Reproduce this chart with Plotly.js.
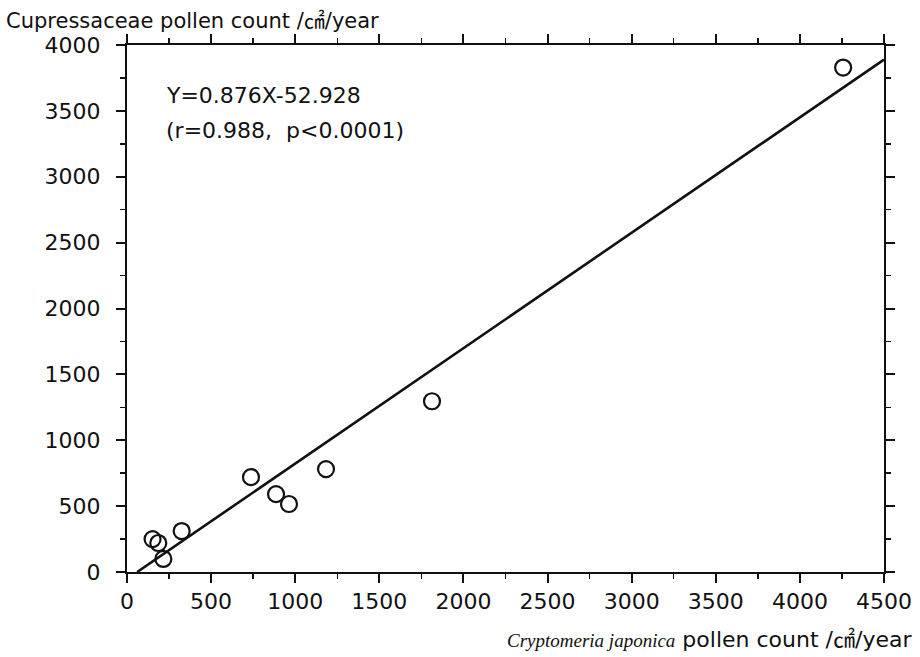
<!DOCTYPE html>
<html><head><meta charset="utf-8">
<script src="https://cdn.plot.ly/plotly-3.0.1.min.js"></script>
<style>html,body{margin:0;padding:0;background:#fff}</style>
</head><body>
<div id="chart" style="width:920px;height:657px"></div>
<script>
const cryptomeria = [152, 186, 216, 325, 737, 886, 963, 1183, 1813, 4257];
const cupressaceae = [250, 220, 99, 311, 720, 591, 516, 781, 1296, 3829];
const slope = 0.876;
const intercept = -52.928;
const fitRange = [-intercept / slope, 4500];
const fitY = fitRange.map(x => slope * x + intercept);
const xTicks = [0, 500, 1000, 1500, 2000, 2500, 3000, 3500, 4000, 4500];
const yTicks = [0, 500, 1000, 1500, 2000, 2500, 3000, 3500, 4000];

const font = "DejaVu Sans, sans-serif";
const unit = '<span style="font-family:Noto Sans CJK JP">㎠</span>';
const traces = [
  {x: fitRange, y: fitY, mode: 'lines', line: {color: '#111', width: 2.6}, hoverinfo: 'skip', showlegend: false},
  {x: cryptomeria, y: cupressaceae, mode: 'markers', showlegend: false,
   marker: {symbol: 'circle-open', size: 16, color: '#111', line: {width: 2.2, color: '#111'}}}
];
const axisCommon = {
  showgrid: false, zeroline: false, showline: true, linecolor: '#111', linewidth: 2,
  mirror: 'allticks', ticks: 'outside', ticklen: 9, tickwidth: 2, tickcolor: '#111',
  tickfont: {family: font, size: 22, color: '#111'},
  minor: {dtick: 250, ticks: 'outside', ticklen: 5, tickwidth: 1.5, tickcolor: '#111'}
};
const layout = {
  width: 920, height: 657,
  margin: {l: 127, r: 36, t: 45, b: 85},
  paper_bgcolor: '#fff', plot_bgcolor: '#fff',
  xaxis: Object.assign({}, axisCommon, {range: [0, 4500], tickvals: xTicks, ticktext: xTicks.map(String)}),
  yaxis: Object.assign({}, axisCommon, {range: [0, 4000], tickvals: yTicks, ticktext: yTicks.map(String), ticklabelstandoff: 11}),
  annotations: [
    {xref: 'x', yref: 'y', x: 222, y: 3620, xanchor: 'left', yanchor: 'middle', showarrow: false,
     text: 'Y=0.876X-52.928', font: {family: font, size: 22, color: '#111'}},
    {xref: 'x', yref: 'y', x: 222, y: 3350, xanchor: 'left', yanchor: 'middle', showarrow: false,
     text: '(r=0.988,  p&lt;0.0001)', font: {family: font, size: 22, color: '#111'}},
    {xref: 'paper', yref: 'paper', x: -0.162, y: 1.05, xanchor: 'left', yanchor: 'middle', showarrow: false,
     text: 'Cupressaceae pollen count /' + unit + '/year', font: {family: font, size: 21, color: '#111'}},
    {xref: 'paper', yref: 'paper', x: 1.04, y: -0.123, xanchor: 'right', yanchor: 'middle', showarrow: false,
     text: '<span style="font-family:Liberation Serif, Times New Roman, serif;font-style:italic;font-size:19px">Cryptomeria japonica</span> pollen count /' + unit + '/year',
     font: {family: font, size: 22, color: '#111'}}
  ]
};
Plotly.newPlot('chart', traces, layout, {displayModeBar: false, staticPlot: true});
</script>
</body></html>
